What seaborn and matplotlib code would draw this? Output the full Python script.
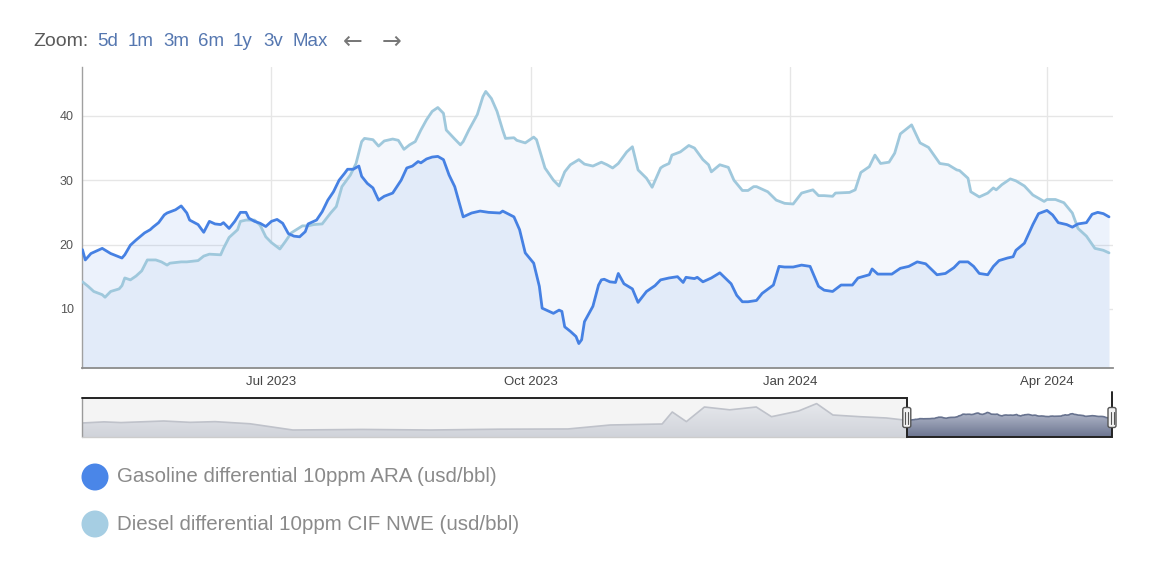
import matplotlib
matplotlib.use("Agg")
import matplotlib.pyplot as plt
import matplotlib.patches as mpatches
import matplotlib.dates as mdates
from matplotlib.lines import Line2D
from matplotlib.colors import LinearSegmentedColormap
import numpy as np
import pandas as pd
import seaborn as sns

# ---------------- data ----------------
series_names = ["Gasoline differential 10ppm ARA (usd/bbl)",
                "Diesel differential 10ppm CIF NWE (usd/bbl)"]

gasoline = [
    ("2023-04-25", 19.2), ("2023-04-26", 17.6), ("2023-04-28", 18.6), ("2023-05-02", 19.4),
    ("2023-05-05", 18.6), ("2023-05-09", 17.9), ("2023-05-10", 18.4), ("2023-05-12", 19.9),
    ("2023-05-14", 20.7), ("2023-05-17", 21.8), ("2023-05-19", 22.3), ("2023-05-20", 22.7),
    ("2023-05-22", 23.4), ("2023-05-24", 24.6), ("2023-05-25", 24.9), ("2023-05-28", 25.4),
    ("2023-05-30", 26.0), ("2023-06-01", 24.9), ("2023-06-02", 23.8), ("2023-06-05", 23.1),
    ("2023-06-07", 21.9), ("2023-06-09", 23.6), ("2023-06-11", 23.2), ("2023-06-13", 23.1),
    ("2023-06-14", 23.4), ("2023-06-16", 22.5), ("2023-06-18", 23.6), ("2023-06-20", 25.0),
    ("2023-06-22", 25.0), ("2023-06-23", 24.1), ("2023-06-25", 23.6), ("2023-06-27", 23.3),
    ("2023-06-29", 22.8), ("2023-07-01", 23.6), ("2023-07-03", 23.9), ("2023-07-05", 23.3),
    ("2023-07-07", 21.7), ("2023-07-09", 21.3), ("2023-07-11", 21.2), ("2023-07-13", 22.0),
    ("2023-07-14", 23.2), ("2023-07-17", 23.8), ("2023-07-19", 25.1), ("2023-07-21", 26.9),
    ("2023-07-23", 28.2), ("2023-07-25", 30.0), ("2023-07-27", 31.1), ("2023-07-28", 31.7),
    ("2023-07-30", 31.7), ("2023-08-01", 32.2), ("2023-08-02", 30.6), ("2023-08-04", 29.5),
    ("2023-08-06", 28.8), ("2023-08-08", 26.9), ("2023-08-10", 27.5), ("2023-08-13", 28.0),
    ("2023-08-16", 30.0), ("2023-08-18", 31.9), ("2023-08-20", 32.2), ("2023-08-22", 32.9),
    ("2023-08-23", 32.7), ("2023-08-25", 33.3), ("2023-08-27", 33.6), ("2023-08-29", 33.7),
    ("2023-08-31", 33.2), ("2023-09-02", 30.8), ("2023-09-04", 29.0), ("2023-09-07", 24.3),
    ("2023-09-10", 24.9), ("2023-09-13", 25.2), ("2023-09-16", 25.0), ("2023-09-20", 24.9),
    ("2023-09-21", 25.2), ("2023-09-25", 24.3), ("2023-09-27", 22.3), ("2023-09-29", 18.7),
    ("2023-10-02", 17.1), ("2023-10-04", 13.5), ("2023-10-05", 10.1), ("2023-10-07", 9.7),
    ("2023-10-09", 9.3), ("2023-10-11", 9.8), ("2023-10-12", 9.6), ("2023-10-13", 7.2),
    ("2023-10-15", 6.5), ("2023-10-17", 5.7), ("2023-10-18", 4.6), ("2023-10-19", 5.2),
    ("2023-10-20", 8.0), ("2023-10-23", 10.4), ("2023-10-25", 13.7), ("2023-10-26", 14.5),
    ("2023-10-27", 14.6), ("2023-10-29", 14.2), ("2023-10-31", 14.1), ("2023-11-01", 15.5),
    ("2023-11-03", 13.9), ("2023-11-06", 13.1), ("2023-11-08", 11.0), ("2023-11-11", 12.7),
    ("2023-11-14", 13.6), ("2023-11-16", 14.5), ("2023-11-19", 14.8), ("2023-11-22", 15.0),
    ("2023-11-24", 14.1), ("2023-11-25", 14.9), ("2023-11-28", 14.7), ("2023-11-29", 14.9),
    ("2023-12-01", 14.2), ("2023-12-04", 14.8), ("2023-12-07", 15.6), ("2023-12-11", 13.9),
    ("2023-12-13", 12.1), ("2023-12-15", 11.1), ("2023-12-17", 11.1), ("2023-12-20", 11.3),
    ("2023-12-22", 12.4), ("2023-12-26", 13.7), ("2023-12-28", 16.6), ("2023-12-30", 16.5),
    ("2024-01-02", 16.5), ("2024-01-05", 16.8), ("2024-01-08", 16.6), ("2024-01-11", 13.5),
    ("2024-01-13", 12.9), ("2024-01-16", 12.7), ("2024-01-19", 13.7), ("2024-01-23", 13.7),
    ("2024-01-25", 14.8), ("2024-01-29", 15.3), ("2024-01-30", 16.2), ("2024-02-01", 15.4),
    ("2024-02-06", 15.4), ("2024-02-09", 16.3), ("2024-02-12", 16.6), ("2024-02-15", 17.3),
    ("2024-02-18", 17.0), ("2024-02-22", 15.3), ("2024-02-25", 15.5), ("2024-02-28", 16.4),
    ("2024-03-01", 17.3), ("2024-03-04", 17.3), ("2024-03-06", 16.6), ("2024-03-08", 15.5),
    ("2024-03-11", 15.3), ("2024-03-13", 16.6), ("2024-03-15", 17.5), ("2024-03-18", 17.9),
    ("2024-03-20", 18.1), ("2024-03-21", 19.1), ("2024-03-24", 20.2), ("2024-03-27", 23.1),
    ("2024-03-29", 24.8), ("2024-04-01", 25.3), ("2024-04-03", 24.6), ("2024-04-05", 23.4),
    ("2024-04-08", 23.1), ("2024-04-10", 22.7), ("2024-04-12", 23.2), ("2024-04-15", 23.4),
    ("2024-04-17", 24.7), ("2024-04-19", 25.0), ("2024-04-21", 24.8), ("2024-04-23", 24.3),
]

diesel = [
    ("2023-04-25", 14.2), ("2023-04-27", 13.5), ("2023-04-29", 12.7), ("2023-05-02", 12.2),
    ("2023-05-03", 11.8), ("2023-05-05", 12.7), ("2023-05-08", 13.1), ("2023-05-09", 13.6),
    ("2023-05-10", 14.8), ("2023-05-12", 14.5), ("2023-05-14", 15.1), ("2023-05-16", 15.9),
    ("2023-05-18", 17.6), ("2023-05-21", 17.6), ("2023-05-23", 17.3), ("2023-05-25", 16.8),
    ("2023-05-26", 17.1), ("2023-05-30", 17.3), ("2023-06-01", 17.3), ("2023-06-05", 17.5),
    ("2023-06-07", 18.2), ("2023-06-09", 18.5), ("2023-06-13", 18.4), ("2023-06-14", 19.4),
    ("2023-06-16", 21.1), ("2023-06-19", 22.3), ("2023-06-20", 23.6), ("2023-06-22", 23.8),
    ("2023-06-25", 23.8), ("2023-06-27", 23.0), ("2023-06-29", 21.2), ("2023-07-01", 20.3),
    ("2023-07-04", 19.3), ("2023-07-06", 20.5), ("2023-07-08", 21.8), ("2023-07-12", 22.9),
    ("2023-07-14", 22.9), ("2023-07-16", 23.1), ("2023-07-19", 23.2), ("2023-07-22", 24.9),
    ("2023-07-24", 25.9), ("2023-07-26", 29.0), ("2023-07-29", 30.8), ("2023-07-31", 32.6),
    ("2023-08-02", 36.0), ("2023-08-03", 36.5), ("2023-08-06", 36.3), ("2023-08-08", 35.3),
    ("2023-08-10", 36.1), ("2023-08-13", 36.4), ("2023-08-15", 36.2), ("2023-08-17", 34.8),
    ("2023-08-19", 35.5), ("2023-08-21", 36.0), ("2023-08-23", 37.8), ("2023-08-25", 39.4),
    ("2023-08-27", 40.7), ("2023-08-29", 41.3), ("2023-08-31", 40.4), ("2023-09-01", 37.8),
    ("2023-09-04", 36.4), ("2023-09-06", 35.5), ("2023-09-07", 36.0), ("2023-09-09", 37.8),
    ("2023-09-12", 40.2), ("2023-09-14", 43.0), ("2023-09-15", 43.8), ("2023-09-17", 42.7),
    ("2023-09-19", 40.7), ("2023-09-21", 37.8), ("2023-09-22", 36.5), ("2023-09-25", 36.6),
    ("2023-09-26", 36.2), ("2023-09-29", 35.8), ("2023-10-02", 36.7), ("2023-10-03", 36.3),
    ("2023-10-06", 31.9), ("2023-10-09", 30.0), ("2023-10-11", 29.1), ("2023-10-13", 31.3),
    ("2023-10-15", 32.4), ("2023-10-18", 33.2), ("2023-10-20", 32.5), ("2023-10-23", 32.2),
    ("2023-10-26", 32.8), ("2023-10-28", 32.4), ("2023-10-30", 31.9), ("2023-11-01", 32.6),
    ("2023-11-04", 34.4), ("2023-11-06", 35.2), ("2023-11-08", 31.6), ("2023-11-11", 30.3),
    ("2023-11-13", 28.9), ("2023-11-16", 31.9), ("2023-11-17", 32.2), ("2023-11-19", 32.6),
    ("2023-11-20", 33.9), ("2023-11-23", 34.4), ("2023-11-26", 35.4), ("2023-11-28", 35.0),
    ("2023-12-01", 33.2), ("2023-12-03", 32.4), ("2023-12-04", 31.3), ("2023-12-07", 32.4),
    ("2023-12-10", 32.0), ("2023-12-12", 30.0), ("2023-12-15", 28.4), ("2023-12-17", 28.4),
    ("2023-12-19", 29.0), ("2023-12-20", 29.0), ("2023-12-22", 28.6), ("2023-12-24", 28.2),
    ("2023-12-27", 26.9), ("2023-12-30", 26.4), ("2024-01-02", 26.3), ("2024-01-05", 28.0),
    ("2024-01-09", 28.5), ("2024-01-11", 27.6), ("2024-01-13", 27.6), ("2024-01-16", 27.5),
    ("2024-01-17", 28.0), ("2024-01-22", 28.1), ("2024-01-24", 28.5), ("2024-01-26", 31.2),
    ("2024-01-29", 32.1), ("2024-01-31", 33.9), ("2024-02-02", 32.6), ("2024-02-05", 32.8),
    ("2024-02-07", 34.2), ("2024-02-09", 37.2), ("2024-02-13", 38.6), ("2024-02-16", 35.8),
    ("2024-02-19", 35.1), ("2024-02-23", 32.6), ("2024-02-26", 32.4), ("2024-02-29", 31.6),
    ("2024-03-01", 31.5), ("2024-03-04", 30.3), ("2024-03-05", 28.2), ("2024-03-08", 27.4),
    ("2024-03-11", 28.0), ("2024-03-13", 28.8), ("2024-03-14", 28.5), ("2024-03-16", 29.3),
    ("2024-03-19", 30.2), ("2024-03-21", 29.9), ("2024-03-24", 29.1), ("2024-03-27", 27.7),
    ("2024-03-31", 26.7), ("2024-04-01", 27.0), ("2024-04-04", 27.0), ("2024-04-07", 26.5),
    ("2024-04-10", 24.9), ("2024-04-12", 22.5), ("2024-04-15", 21.3), ("2024-04-18", 19.4),
    ("2024-04-21", 19.1), ("2024-04-23", 18.7),
]

# longer history shown in the navigator strip (before the selected year), estimated
navigator_history = [
    ("2019-04-23", -0.8), ("2019-06-01", 4.0), ("2019-07-01", 1.0), ("2019-09-15", 7.7),
    ("2019-11-01", 2.0), ("2019-12-15", 5.0), ("2020-02-15", -4.0), ("2020-05-01", -30.4),
    ("2020-09-01", -28.0), ("2021-01-01", -30.4), ("2021-05-01", -27.0), ("2021-09-01", -26.0),
    ("2021-11-15", -9.2), ("2022-02-15", -5.0), ("2022-03-05", 45.8), ("2022-03-30", 5.1),
    ("2022-05-01", 66.9), ("2022-06-15", 55.0), ("2022-08-01", 66.9), ("2022-08-28", 25.9),
    ("2022-10-15", 50.0), ("2022-11-16", 81.3), ("2022-12-15", 33.0), ("2023-02-01", 25.9),
    ("2023-03-20", 20.4), ("2023-04-20", 11.9),
]

x_tick_dates = ["2023-07-01", "2023-10-01", "2024-01-01", "2024-04-01"]
x_tick_labels = ["Jul 2023", "Oct 2023", "Jan 2024", "Apr 2024"]
y_ticks = [10, 20, 30, 40]
zoom_buttons = ["5d", "1m", "3m", "6m", "1y", "3v", "Max"]

# ---------------- styling ----------------
sns.set_theme(style="white")
plt.rcParams["font.family"] = ["Liberation Sans", "DejaVu Sans"]

GAS = "#4a86e8"
DSL = "#a6cee3"
GAS_LINE = "#4681e3"
DSL_LINE = "#9fc8dc"

W, H = 1167, 571
def fx(px):
    return px / W
def fy(py):
    return 1 - py / H

fig = plt.figure(figsize=(W / 100, H / 100), dpi=100)
fig.patch.set_facecolor("white")

gas_df = pd.DataFrame(gasoline, columns=["date", "value"])
gas_df["date"] = pd.to_datetime(gas_df["date"])
dsl_df = pd.DataFrame(diesel, columns=["date", "value"])
dsl_df["date"] = pd.to_datetime(dsl_df["date"])

# ---------------- main chart ----------------
ax = fig.add_axes([fx(82), fy(368), fx(1113) - fx(82), fy(67) - fy(368)])
ymin, ymax = 0.8, 47.6
ax.set_ylim(ymin, ymax)
ax.set_xlim(pd.Timestamp("2023-04-24 20:00"), pd.Timestamp("2024-04-24 10:00"))

ax.fill_between(dsl_df["date"], ymin, dsl_df["value"], color="#f4f7fc", lw=0, zorder=1)
ax.fill_between(gas_df["date"], ymin, gas_df["value"], color=GAS, alpha=0.10, lw=0, zorder=2)

sns.lineplot(data=dsl_df, x="date", y="value", ax=ax, color=DSL_LINE, linewidth=2.0, zorder=4)
sns.lineplot(data=gas_df, x="date", y="value", ax=ax, color=GAS_LINE, linewidth=2.0, zorder=5)

ax.set_xlabel("")
ax.set_ylabel("")
ax.set_yticks(y_ticks)
ax.set_yticklabels([str(v) for v in y_ticks])
ax.set_xticks(pd.to_datetime(x_tick_dates))
ax.set_xticklabels(x_tick_labels)
ax.tick_params(axis="y", length=0, pad=6, labelsize=9, labelcolor="#555555")
ax.tick_params(axis="x", length=0, pad=6, labelsize=9.5, labelcolor="#444444")
ax.grid(True, axis="both", color="#e6e6e6", linewidth=1.0, zorder=0)
ax.set_axisbelow(True)
for s in ["top", "right"]:
    ax.spines[s].set_visible(False)
ax.spines["left"].set_color("#a0a0a0")
ax.spines["left"].set_linewidth(1.0)
ax.spines["bottom"].set_color("#8c8c8c")
ax.spines["bottom"].set_linewidth(1.3)

# ---------------- navigator ----------------
nav_hist_df = pd.DataFrame(navigator_history, columns=["date", "value"])
nav_hist_df["date"] = pd.to_datetime(nav_hist_df["date"])
nav_df = pd.concat([nav_hist_df, dsl_df], ignore_index=True)
sel_start = gas_df["date"].iloc[0]
nav_start = nav_hist_df["date"].iloc[0]
nav_end = dsl_df["date"].iloc[-1]
nav_left, nav_right, nav_top, nav_bot = 82, 1112, 398, 437
axn = fig.add_axes([fx(nav_left), fy(nav_bot), fx(nav_right) - fx(nav_left), fy(nav_top) - fy(nav_bot)])
nlo, nhi = -60, 105
axn.set_ylim(nlo, nhi)
axn.set_xlim(nav_start, nav_end)
axn.axvspan(nav_start, sel_start, color="#f4f4f4", lw=0, zorder=0)
outside = nav_df[nav_df["date"] <= sel_start]
inside = nav_df[nav_df["date"] >= sel_start]

grad = np.linspace(0, 1, 64).reshape(-1, 1)
out_cmap = LinearSegmentedColormap.from_list("o", ["#d0d3da", "#e6e8ec"])
in_cmap = LinearSegmentedColormap.from_list("i", ["#6c7590", "#b2b8ca"])
for part, cmap in [(outside, out_cmap), (inside, in_cmap)]:
    poly = axn.fill_between(part["date"], nlo, part["value"], color="none", lw=0)
    x0 = mdates.date2num(part["date"].iloc[0])
    x1 = mdates.date2num(part["date"].iloc[-1])
    im = axn.imshow(grad, extent=[x0, x1, nlo, part["value"].max()], origin="lower",
                    aspect="auto", cmap=cmap, zorder=1)
    im.set_clip_path(poly.get_paths()[0], transform=axn.transData)
axn.set_xlim(nav_start, nav_end)
axn.set_ylim(nlo, nhi)
sns.lineplot(data=outside, x="date", y="value", ax=axn, color="#bfc2ca", linewidth=1.2, zorder=2)
sns.lineplot(data=inside, x="date", y="value", ax=axn, color="#68738f", linewidth=1.2, zorder=2)
axn.set_xlabel("")
axn.set_ylabel("")
axn.set_xticks([])
axn.set_yticks([])
for s in axn.spines.values():
    s.set_visible(False)

# outline and handles (drawn in pixel space)
fig.canvas.draw()
sel_px = axn.transData.transform((mdates.date2num(sel_start), 0))[0]
end_px = axn.transData.transform((mdates.date2num(nav_end), 0))[0]
top_d, bot_d = H - nav_top, H - nav_bot
left_d = nav_left
fig.add_artist(Line2D([left_d, left_d], [bot_d, top_d], color="#9a9a9a", lw=1.0, transform=None))
fig.add_artist(Line2D([left_d, sel_px], [bot_d, bot_d], color="#cccccc", lw=1.0, transform=None))
fig.add_artist(Line2D([left_d, sel_px, sel_px, end_px, end_px],
                      [top_d, top_d, bot_d, bot_d, top_d + 6],
                      color="#222222", lw=1.4, transform=None, solid_joinstyle="miter"))
for hx in [sel_px, end_px]:
    hy = (top_d + bot_d) / 2
    box = mpatches.FancyBboxPatch((hx - 4, hy - 10), 8, 20,
                                  boxstyle="round,pad=0,rounding_size=2",
                                  fc="#f2f2f2", ec="#555555", lw=1.0, transform=None, zorder=10)
    fig.add_artist(box)
    for dx in (-1.5, 1.5):
        fig.add_artist(Line2D([hx + dx, hx + dx], [hy - 6, hy + 6], color="#555555", lw=0.8,
                              transform=None, zorder=11))

# ---------------- header ----------------
fig.text(fx(33), fy(42), "Zoom:", fontsize=14, color="#5a5a5a", va="center", ha="left")
btn_x = [97, 128, 163, 198, 233, 263, 292]
for label, bx in zip(zoom_buttons, btn_x):
    fig.text(fx(bx), fy(42), label, fontsize=13.5, color="#5577b0", va="center", ha="left")
fig.text(fx(353), fy(42), "\u2190", fontsize=17, color="#777777", va="center", ha="center",
         fontfamily="DejaVu Sans")
fig.text(fx(392), fy(42), "\u2192", fontsize=17, color="#777777", va="center", ha="center",
         fontfamily="DejaVu Sans")

# ---------------- legend ----------------
for (name, color, ly) in [(series_names[0], GAS, 477), (series_names[1], DSL, 524)]:
    circ = mpatches.Circle((95, H - ly), 13.5, fc=color, ec="none", transform=None)
    fig.add_artist(circ)
    fig.text(fx(117), fy(ly), name, fontsize=14.8, color="#8a8a8a", va="center", ha="left")

fig.savefig("out.png", dpi=100, facecolor="white")
